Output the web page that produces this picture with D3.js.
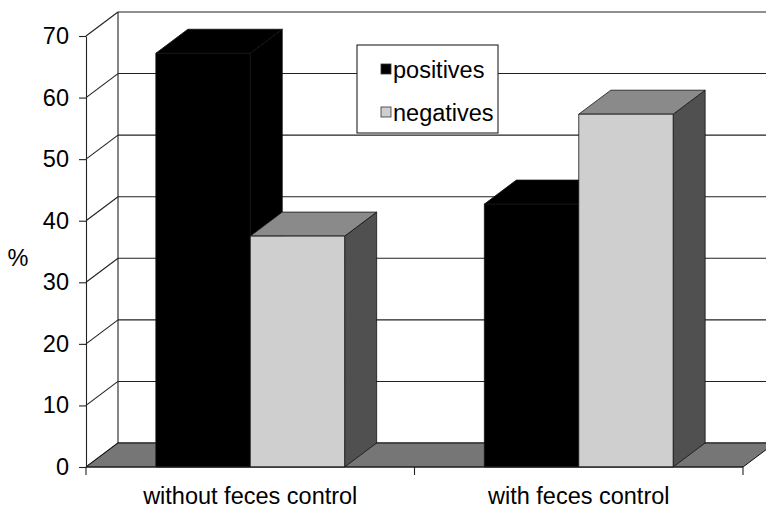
<!DOCTYPE html>
<html>
<head>
<meta charset="utf-8">
<script src="https://cdn.jsdelivr.net/npm/d3@7"></script>
<style>
  body { margin: 0; background: #fff; }
  svg text { font-family: "Liberation Sans", Arial, sans-serif; fill: #000; }
</style>
</head>
<body>
<svg id="chart" width="766" height="510"></svg>
<script>
const categories = ["without feces control", "with feces control"]
const series = ["positives", "negatives"]
const positives = [67.2, 42.7]
const negatives = [37.5, 57.3]
const yTicks = [0, 10, 20, 30, 40, 50, 60, 70]

const width = 766
const height = 510
const dx = 32, dy = -24   // depth of the 3d box
const fs = 23.5
const fill = { positives: { front: "#000", top: "#000", side: "#000" },
               negatives: { front: "#cfcfcf", top: "#8a8a8a", side: "#505050" } }

const svg = d3.select("#chart").attr("width", width).attr("height", height)

const y = d3.scaleLinear().domain([0, 70]).range([467, 36])
const x0 = d3.scaleBand().domain(categories).range([86, 743])
const x1 = d3.scaleBand().domain(series).range([0, x0.bandwidth()]).paddingInner(0).paddingOuter(0.74)

const left = x0.range()[0], right = x0.range()[1]

// walls and grid
const grid = svg.append("g").attr("stroke", "#222").attr("stroke-width", 1.1)
grid.selectAll("line.diag").data(yTicks).join("line").attr("class", "diag")
    .attr("x1", left).attr("y1", d => y(d))
    .attr("x2", left + dx).attr("y2", d => y(d) + dy)
grid.selectAll("line.back").data(yTicks).join("line").attr("class", "back")
    .attr("x1", left + dx).attr("y1", d => y(d) + dy)
    .attr("x2", right + dx).attr("y2", d => y(d) + dy)
grid.append("line")
    .attr("x1", left + dx).attr("y1", y(0) + dy)
    .attr("x2", left + dx).attr("y2", y(70) + dy)

// floor
svg.append("polygon")
    .attr("points", [[left, y(0)], [right, y(0)], [right + dx, y(0) + dy], [left + dx, y(0) + dy]].join(" "))
    .attr("fill", "#767676").attr("stroke", "#111").attr("stroke-width", 1)

// legend (sits on the back wall, behind bars)
const legend = svg.append("g")
legend.append("rect").attr("x", 357).attr("y", 45).attr("width", 141).attr("height", 88)
    .attr("fill", "#fff").attr("stroke", "#222").attr("stroke-width", 1.1)
legend.selectAll("g.item").data(series).join("g").attr("class", "item")
    .attr("transform", (d, i) => `translate(381, ${64 + i * 43})`)
    .call(g => {
        g.append("rect").attr("width", 10).attr("height", 10)
            .attr("fill", d => fill[d].front).attr("stroke", "#333").attr("stroke-width", 0.8)
        g.append("text").attr("x", 12).attr("y", 14).attr("font-size", fs).text(d => d)
    })

// bars
const bars = []
categories.forEach((c, i) => {
    bars.push({ cat: c, key: "positives", value: positives[i] })
    bars.push({ cat: c, key: "negatives", value: negatives[i] })
})

const barG = svg.selectAll("g.bar").data(bars).join("g").attr("class", "bar")
    .attr("stroke", "#111").attr("stroke-width", 0.8).attr("stroke-linejoin", "round")

barG.each(function (d) {
    const g = d3.select(this)
    const xl = x0(d.cat) + x1(d.key)
    const w = x1.bandwidth()
    const yt = y(d.value), yb = y(0)
    g.append("polygon")
        .attr("points", [[xl + w, yt], [xl + w + dx, yt + dy], [xl + w + dx, yb + dy], [xl + w, yb]].join(" "))
        .attr("fill", fill[d.key].side)
    g.append("polygon")
        .attr("points", [[xl, yt], [xl + dx, yt + dy], [xl + w + dx, yt + dy], [xl + w, yt]].join(" "))
        .attr("fill", fill[d.key].top)
    g.append("rect").attr("x", xl).attr("y", yt).attr("width", w).attr("height", yb - yt)
        .attr("fill", fill[d.key].front)
})

// y axis
const yAxis = svg.append("g").attr("transform", `translate(${left},0)`)
    .call(d3.axisLeft(y).tickValues(yTicks).tickSize(7).tickSizeOuter(0).tickPadding(10))
yAxis.select(".domain").attr("stroke", "#222").attr("stroke-width", 1.1)
yAxis.selectAll(".tick line").attr("stroke", "#222").attr("stroke-width", 1.1)
yAxis.selectAll(".tick text").attr("font-size", fs).attr("font-family", null).attr("fill", "#000")

// x axis: front floor edge + boundary ticks
const xg = svg.append("g").attr("stroke", "#222").attr("stroke-width", 1.1)
xg.append("line").attr("x1", left).attr("y1", y(0)).attr("x2", right).attr("y2", y(0))
const bounds = categories.map(c => x0(c)).concat([right])
xg.selectAll("line.tick").data(bounds).join("line").attr("class", "tick")
    .attr("x1", d => d).attr("x2", d => d).attr("y1", y(0)).attr("y2", y(0) + 8)

svg.selectAll("text.cat").data(categories).join("text").attr("class", "cat")
    .attr("x", d => x0(d) + x0.bandwidth() / 2).attr("y", 504)
    .attr("text-anchor", "middle").attr("font-size", fs).text(d => d)

svg.append("text").attr("x", 18).attr("y", 266).attr("text-anchor", "middle")
    .attr("font-size", fs).text("%")
</script>
</body>
</html>
